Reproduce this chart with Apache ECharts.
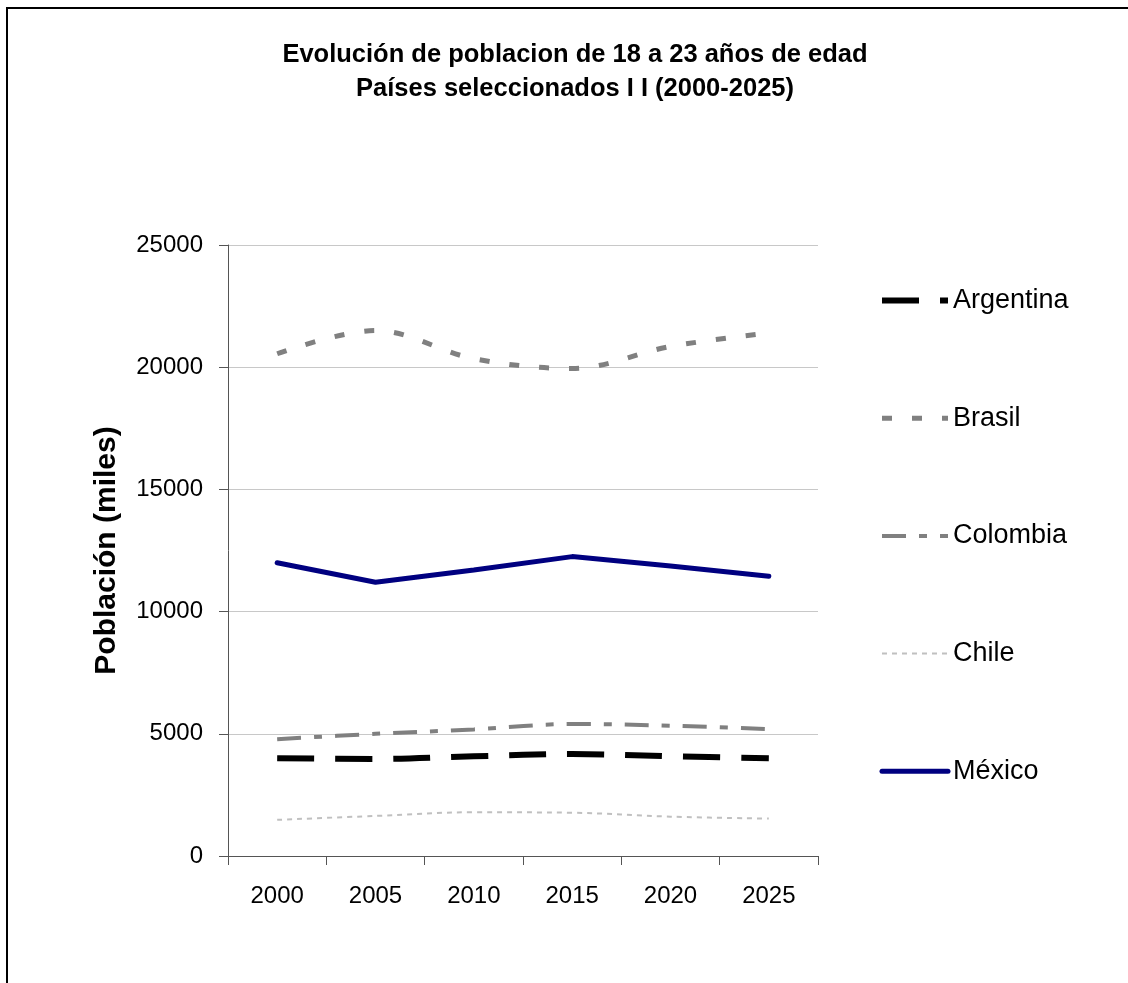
<!DOCTYPE html>
<html>
<head>
<meta charset="utf-8">
<script src="https://cdn.jsdelivr.net/npm/echarts@6/dist/echarts.min.js"></script>
<style>
html,body{margin:0;padding:0;background:#fff;}
#chart{width:1128px;height:983px;}
</style>
</head>
<body>
<div id="chart"></div>
<script>
const years = ['2000', '2005', '2010', '2015', '2020', '2025'];
const argentina = [4000, 3970, 4080, 4170, 4080, 4000];
const brasil = [20550, 21500, 20350, 19950, 20850, 21400];
const colombia = [4780, 5000, 5180, 5400, 5330, 5190];
const chile = [1480, 1640, 1790, 1770, 1610, 1530];
const mexico = [12000, 11200, 11700, 12250, 11870, 11450];
const yTicks = [0, 5000, 10000, 15000, 20000, 25000];

const FONT = '"Liberation Sans", Arial, sans-serif';
const chart = echarts.init(document.getElementById('chart'), null, {renderer: 'canvas'});

const styles = {
  'Argentina': {color: '#000000', width: 6, type: [37, 21], smooth: true},
  'Brasil': {color: '#808080', width: 5, type: [10, 20], smooth: true},
  'Colombia': {color: '#808080', width: 4, type: [24, 13, 8, 13], smooth: true},
  'Chile': {color: '#c0c0c0', width: 2, type: [5, 5], smooth: true},
  'México': {color: '#000080', width: 5, type: 'solid', smooth: false, cap: 'round'}
};

function mk(name, data) {
  const s = styles[name];
  return {
    name: name, type: 'line', data: data, smooth: s.smooth ? 0.35 : false,
    symbol: 'none', showSymbol: false,
    lineStyle: {color: s.color, width: s.width, type: s.type, cap: s.cap || 'butt'},
    itemStyle: {color: s.color},
    emphasis: {disabled: true}
  };
}

const legendNames = ['Argentina', 'Brasil', 'Colombia', 'Chile', 'México'];

chart.setOption({
  animation: false,
  backgroundColor: '#fff',
  title: {
    text: 'Evolución de poblacion de 18 a 23 años de edad\nPaíses seleccionados I I (2000-2025)',
    left: 570, top: 33, textAlign: 'center',
    textStyle: {fontFamily: FONT, fontSize: 25.5, fontWeight: 'bold', color: '#000', lineHeight: 34}
  },
  graphic: [{
    type: 'rect', shape: {x: 7, y: 8, width: 1300, height: 1200},
    style: {fill: null, stroke: '#000', lineWidth: 2}, silent: true, z: 100
  }],
  grid: {left: 228, top: 245, right: 310, bottom: 127, containLabel: false},
  legend: {
    orient: 'vertical', left: 879, top: 287, padding: 0,
    itemWidth: 66, itemHeight: 26, itemGap: 90.7,
    itemStyle: {opacity: 0},
    textStyle: {fontFamily: FONT, fontSize: 27, color: '#000', lineHeight: 26},
    data: legendNames.map(function (n) {
      const s = styles[n];
      return {name: n, lineStyle: {width: s.width, type: s.type, color: s.color, cap: s.cap || 'butt'}, itemStyle: {opacity: 0}};
    })
  },
  xAxis: {
    type: 'category', data: years, boundaryGap: true,
    axisLine: {lineStyle: {color: '#555', width: 1}},
    axisTick: {show: true, length: 9, inside: false, lineStyle: {color: '#555'}},
    axisLabel: {fontFamily: FONT, fontSize: 24, color: '#000', margin: 28},
    splitLine: {show: false}
  },
  yAxis: {
    type: 'value', min: 0, max: 25000, interval: 5000,
    name: 'Población (miles)', nameLocation: 'middle', nameGap: 106, nameRotate: 90,
    nameTextStyle: {fontFamily: FONT, fontSize: 30, fontWeight: 'bold', color: '#000'},
    axisLine: {show: true, lineStyle: {color: '#555', width: 1}},
    axisTick: {show: true, length: 9, lineStyle: {color: '#555'}},
    axisLabel: {fontFamily: FONT, fontSize: 24, color: '#000', margin: 25,
      formatter: function (v) { return yTicks.indexOf(v) >= 0 ? String(v) : ''; }},
    splitLine: {show: true, lineStyle: {color: '#c8c8c8', width: 1}}
  },
  series: [
    mk('Argentina', argentina),
    mk('Brasil', brasil),
    mk('Colombia', colombia),
    mk('Chile', chile),
    mk('México', mexico)
  ]
});
</script>
</body>
</html>
